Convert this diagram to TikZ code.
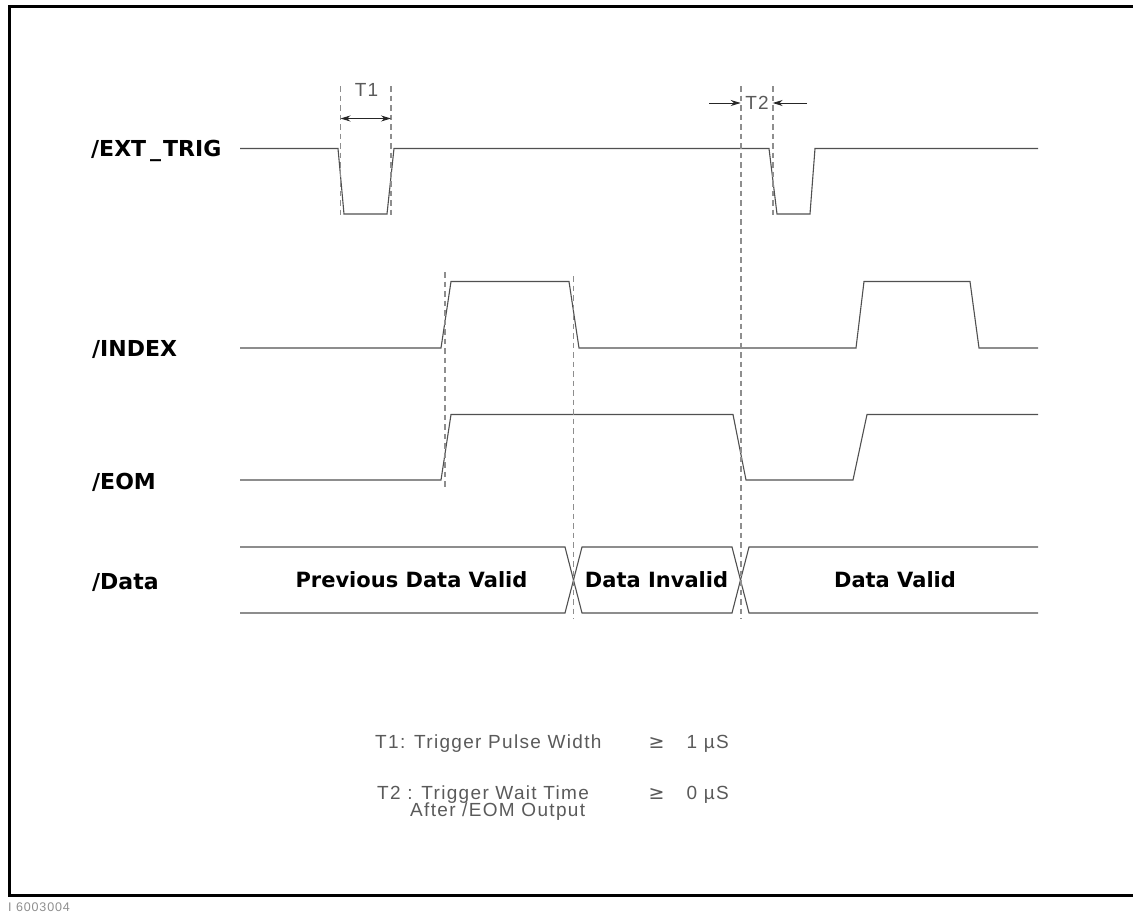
\documentclass[tikz,border=0pt]{standalone}
\usepackage{fontspec}
\setmainfont{DejaVu Sans}
\newfontfamily\thinfont[LetterSpace=7]{Liberation Sans}
\usetikzlibrary{arrows.meta,positioning}
\definecolor{wave}{HTML}{505050}
\definecolor{guide}{HTML}{8E8E8E}
\definecolor{note}{HTML}{5A5A5A}
\tikzset{
  sig/.style  ={draw=wave, line width=1.1pt, line join=miter},
  gl/.style   ={draw=guide, line width=1.6pt, dash pattern=on 5.5pt off 4pt},
  lbl/.style  ={anchor=west, inner sep=0pt, text height=16pt, text depth=0pt,
                font=\fontsize{22}{24}\selectfont\bfseries},
  dat/.style  ={inner sep=0pt, text height=15.5pt, text depth=0pt,
                font=\fontsize{21}{24}\selectfont\bfseries},
  note/.style ={inner sep=0pt, text height=13.5pt, text depth=0pt, text=note,
                font=\thinfont\fontsize{19}{20}\selectfont},
  tlbl/.style ={note, text height=13pt, font=\thinfont\fontsize{19}{20}\selectfont},
  dim/.style  ={-{Stealth[length=10pt,width=6pt]}, line width=0.9pt, draw=black!85},
  dimtwo/.style={{Stealth[length=10pt,width=6pt]}-{Stealth[length=10pt,width=6pt]},
                line width=0.9pt, draw=black!85}
}
\begin{document}
\begin{tikzpicture}[x=1pt,y=-1pt]
\useasboundingbox (0,0) rectangle (1133,913);
\draw[line width=3pt] (9.5,6.5) rectangle (1140,895.5);
\node[anchor=west, inner sep=0pt, text=guide,
      font=\thinfont\fontsize{12.5}{13}\selectfont] (figid) at (8,907) {I 6003004};

% signal names
\node[lbl] (ext) at (91,148.5) {/EXT\kern4pt\_\kern2pt TRIG};
\node[lbl] (idx) at (92,348) {/INDEX};
\node[lbl] (eom) at (92,481) {/EOM};
\node[lbl] (dta) at (92,581) {/Data};

% waveforms
\draw[sig] (240,148.5) -- (338,148.5) -- (344,214) -- (387,214) -- (394,148.5)
  -- (769,148.5) -- (777,214) -- (810,214) -- (815,148.5) -- (1038,148.5);
\draw[sig] (240,348) -- (441,348) -- (451,281.5) -- (569,281.5) -- (579,348)
  -- (856,348) -- (864,281.5) -- (970,281.5) -- (979,348) -- (1038,348);
\draw[sig] (240,480) -- (441,480) -- (451,414.5) -- (733,414.5) -- (746,480)
  -- (853,480) -- (867,414.5) -- (1038,414.5);
\draw[sig] (240,547) -- (565,547) -- (582,613) -- (732,613) -- (749,547) -- (1038,547);
\draw[sig] (240,613) -- (565,613) -- (582,547) -- (732,547) -- (749,613) -- (1038,613);

\node[dat] (prev) at (411.5,580) {Previous Data Valid};
\node[dat] (inv)  at (656.5,580) {Data Invalid};
\node[dat] (val)  at (895,580)   {Data Valid};

% timing guides
\foreach \x/\a/\b in {340.5/86/217, 391/86/217, 445/272/487,
                      573.5/276/619, 740.7/86/619, 772.7/86/217}
  \draw[gl] (\x,\a) -- (\x,\b);

% T1 / T2
\node[tlbl] (tone) at (366.5,90) {T1};
\coordinate (tonel) at (340.5,118.5);
\coordinate (toner) at (391,118.5);
\draw[dimtwo] (tonel) -- (toner);

\node[tlbl] (ttwo) at (757,103) {T2};
\coordinate (ttwol) at (740.7,103);
\coordinate (ttwor) at (772.7,103);
\coordinate (ttwoa) at (709,103);
\coordinate (ttwob) at (807,103);
\draw[dim] (ttwoa) -- (ttwol);
\draw[dim] (ttwob) -- (ttwor);

% legend
\node[note, anchor=west] (leg1) at (375,741.5) {T1: Trigger Pulse Width};
\node[note, font=\fontsize{19}{20}\selectfont] (geq1) at (656.5,741.5) {≥};
\node[note, anchor=west] (min1) at (686.5,741.5) {1 µS};
\node[note, anchor=west] (leg2) at (377,793) {T2 : Trigger Wait Time};
\node[note, anchor=west] (leg3) at (410,810) {After /EOM Output};
\node[note, font=\fontsize{19}{20}\selectfont] (geq2) at (656.5,793) {≥};
\node[note, anchor=west] (min2) at (686.5,793) {0 µS};
\end{tikzpicture}
\end{document}
